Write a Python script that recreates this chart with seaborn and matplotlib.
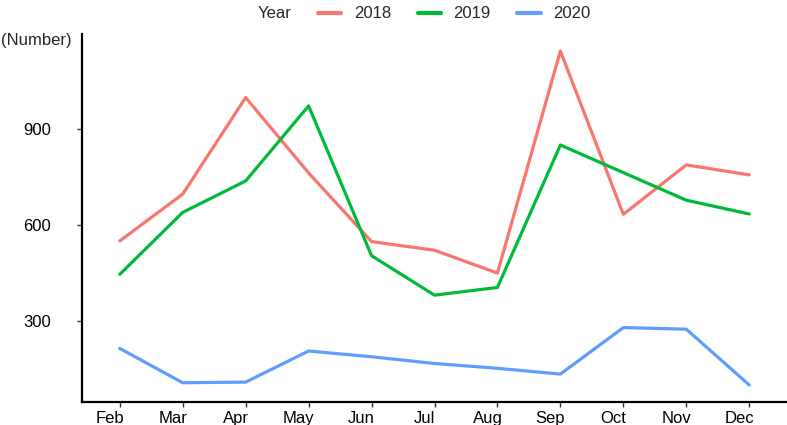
#!/usr/bin/env python3

import matplotlib

matplotlib.use("Agg")
import matplotlib.pyplot as plt
import matplotlib.transforms as mtransforms
import pandas as pd
import seaborn as sns

# Values
months = ["Feb", "Mar", "Apr", "May", "Jun", "Jul", "Aug", "Sep", "Oct", "Nov", "Dec"]
years = ["2018", "2019", "2020"]
values_2018 = [550, 696, 997, 762, 548, 521, 450, 1142, 633, 787, 756]
values_2019 = [446, 639, 737, 971, 504, 381, 405, 849, 763, 677, 634]
values_2020 = [215, 108, 110, 207, 189, 168, 153, 135, 280, 275, 101]
palette = ["#F8766D", "#00BA38", "#619CFF"]


def main():
    sns.set_style("white")
    plt.rcParams["font.family"] = ["Liberation Sans", "DejaVu Sans"]

    df = pd.DataFrame(
        {
            "Month": months * 3,
            "Year": [y for y in years for _ in months],
            "Count": values_2018 + values_2019 + values_2020,
        }
    )
    df["x"] = df["Month"].map({m: i for i, m in enumerate(months)})

    fig = plt.figure(figsize=(7.87, 4.25), dpi=100)
    ax = fig.add_axes([82 / 787, 23 / 425, 705 / 787, 368 / 425])

    sns.lineplot(
        data=df,
        x="x",
        y="Count",
        hue="Year",
        palette=palette,
        linewidth=2.3,
        ax=ax,
        legend=True,
    )

    # ggplot-like 5% expansion on y, 0.6 on the discrete x
    ax.set_xlim(-0.6, len(months) - 0.4)
    ax.set_ylim(48, 1195)
    ax.set_xticks(range(len(months)))
    ax.set_xticklabels(months)
    ax.set_yticks([300, 600, 900])
    ax.set_xlabel("")
    ax.set_ylabel("")

    for side in ["top", "right"]:
        ax.spines[side].set_visible(False)
    for side in ["left", "bottom"]:
        ax.spines[side].set_color("black")
        ax.spines[side].set_linewidth(1.6)
    ax.tick_params(
        axis="both",
        direction="out",
        length=3.5,
        width=1,
        color="#333333",
        labelsize=12,
        labelcolor="black",
        left=True,
        bottom=True,
    )
    ax.tick_params(axis="x", pad=3)
    ax.tick_params(axis="y", pad=19)

    # the reference draws the month labels a little left of their ticks
    shift = mtransforms.ScaledTranslation(-10 / 100, 0, fig.dpi_scale_trans)
    for lab in ax.get_xticklabels():
        lab.set_transform(lab.get_transform() + shift)

    fig.text(1 / 787, 1 - 41 / 425, "(Number)", fontsize=12, va="center", ha="left")

    # Horizontal legend at the top with the title on the left
    handles, labels = ax.get_legend_handles_labels()
    ax.get_legend().remove()
    leg = fig.legend(
        handles,
        labels,
        ncol=3,
        loc="center left",
        bbox_to_anchor=(318 / 787, 1 - 14 / 425),
        frameon=False,
        fontsize=12,
        handlelength=1.4,
        handletextpad=0.75,
        columnspacing=1.6,
        borderaxespad=0,
        borderpad=0,
    )
    for line in leg.get_lines():
        line.set_linewidth(3)
    fig.text(258 / 787, 1 - 14 / 425, "Year", fontsize=12, va="center", ha="left")

    fig.savefig("out.png", dpi=100)
    plt.close(fig)


if __name__ == "__main__":
    main()
